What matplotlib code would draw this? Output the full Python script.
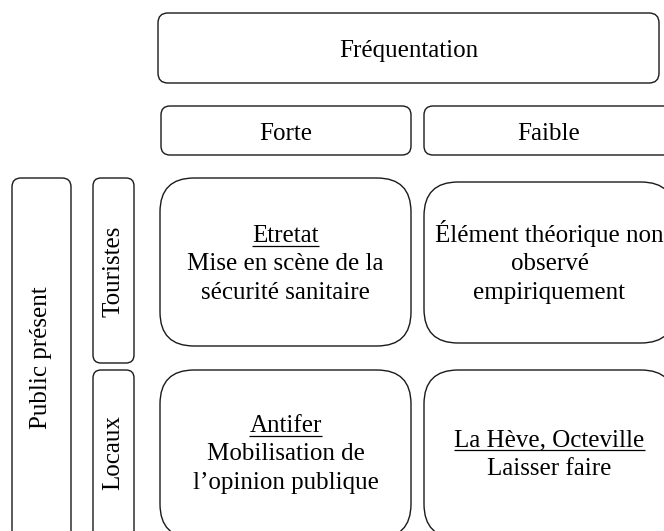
import matplotlib
matplotlib.use("Agg")
import matplotlib.pyplot as plt
from matplotlib.patches import FancyBboxPatch

# --- content -------------------------------------------------------------
top_header = "Fréquentation"
col_labels = ["Forte", "Faible"]
side_header = "Public présent"
row_labels = ["Touristes", "Locaux"]
# (underlined title, body lines) per cell, row-major
cell_titles = [["Etretat", None], ["Antifer", "La Hève, Octeville"]]
cell_bodies = [
    [["Mise en scène de la", "sécurité sanitaire"],
     ["Élément théorique non", "observé", "empiriquement"]],
    [["Mobilisation de", "l\u2019opinion publique"],
     ["Laisser faire"]],
]

FONT = "Liberation Serif"
FS = 18
EDGE = "#1a1a1a"
LINE_STEP = 28.5
BASE_OFF = 8.5

fig = plt.figure(figsize=(6.64, 5.31), dpi=100)
ax = fig.add_axes([0, 0, 1, 1])
ax.set_xlim(0, 664)
ax.set_ylim(531, 0)
ax.axis("off")


def box(x, y, w, h, r):
    ax.add_patch(FancyBboxPatch((x, y), w, h,
                                boxstyle=f"round,pad=0,rounding_size={r}",
                                facecolor="white", edgecolor=EDGE, linewidth=1.0))


def label(x, y, s, rot=0, va="baseline"):
    return ax.text(x, y, s, fontsize=FS, family=FONT, ha="center", va=va,
                   rotation=rot, color="black")


# header boxes
box(158, 13, 501, 70, 10)
label(158 + 501 / 2, 48 + BASE_OFF, top_header)

col_x = [161, 424]
col_w = 250
for cx, txt in zip(col_x, col_labels):
    box(cx, 106, col_w, 49, 9)
    label(cx + col_w / 2, 130.5 + 9, txt)

# side boxes
box(12, 178, 59, 362, 9)
label(41.5, 358, side_header, rot=90, va="center")

row_y = [178, 370]
row_h = [185, 170]
row_cy = [271, 453]
for ry, rh, cy, txt in zip(row_y, row_h, row_cy, row_labels):
    box(93, ry, 41, rh, 8)
    label(113.5, cy, txt, rot=90, va="center")

# matrix cells
cell_y = [[178, 182], [370, 370]]
cell_h = [[168, 161], [168, 168]]
cell_cy = [[262, 262], [452, 452]]
underlines = []
for i in range(2):
    for j in range(2):
        x = col_x[j] - (1 if j == 0 else 0)
        box(x, cell_y[i][j], col_w + 1, cell_h[i][j], 34)
        lines = ([cell_titles[i][j]] if cell_titles[i][j] else []) + cell_bodies[i][j]
        n = len(lines)
        cx = x + (col_w + 1) / 2
        for k, s in enumerate(lines):
            yb = cell_cy[i][j] + (k - (n - 1) / 2) * LINE_STEP + BASE_OFF
            t = label(cx, yb, s)
            if k == 0 and cell_titles[i][j]:
                underlines.append((t, yb))

# underline the place names
fig.canvas.draw()
renderer = fig.canvas.get_renderer()
inv = ax.transData.inverted()
for t, yb in underlines:
    bb = t.get_window_extent(renderer)
    (x0, _), (x1, _) = inv.transform([(bb.x0, bb.y0), (bb.x1, bb.y1)])
    ax.plot([x0, x1], [yb + 4, yb + 4], color="black", linewidth=0.9,
            solid_capstyle="butt")

fig.savefig("out.png", dpi=100)
